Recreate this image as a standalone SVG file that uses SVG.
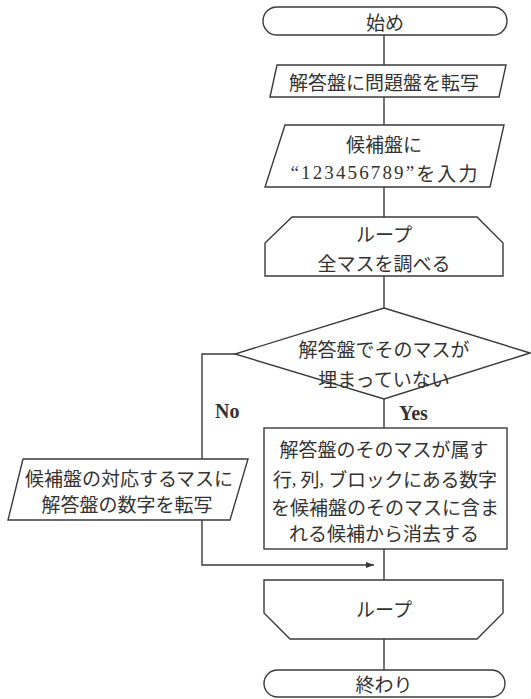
<svg xmlns="http://www.w3.org/2000/svg" width="531" height="699" viewBox="0 0 531 699">
<style>
.s{fill:#fff;stroke:#3a3a3a;stroke-width:1.4}
.c{fill:none;stroke:#3a3a3a;stroke-width:1.4}
.t{font-family:"Noto Sans CJK JP","Noto Sans",sans-serif;font-size:19px;fill:#333;text-anchor:middle;dominant-baseline:central}
.l{font-family:"Liberation Serif","Noto Sans CJK JP",serif;font-size:20px;font-weight:bold;fill:#333}
.d{font-family:"Liberation Serif",serif}
</style>
<defs>
<marker id="arr" markerWidth="8" markerHeight="6" refX="8" refY="3" orient="auto" markerUnits="userSpaceOnUse">
<path d="M0,0 L8,3 L0,6 Z" fill="#3a3a3a"/>
</marker>
</defs>
<g id="connectors">
<path class="c" d="M384 35 V65"/>
<path class="c" d="M384 97 V125"/>
<path class="c" d="M384 187 V217"/>
<path class="c" d="M384 276 V308"/>
<path class="c" d="M384 399 V428"/>
<path class="c" d="M384 549 V580"/>
<path class="c" d="M384 639 V670"/>
<path class="c" d="M235 354 H202 V565 H374" marker-end="url(#arr)"/>
<text class="l" x="215" y="418">No</text>
<text class="l" x="399" y="420">Yes</text>
</g>
<g id="start">
<rect class="s" x="263" y="7" width="244" height="28" rx="14"/>
<text class="t" x="385" y="21">始め</text>
</g>
<g id="copy">
<polygon class="s" points="277,65 506,65 499,97 270,97"/>
<text class="t" x="384" y="81">解答盤に問題盤を転写</text>
</g>
<g id="input">
<polygon class="s" points="285,125 504,125 490,187 265,187"/>
<text class="t" x="384" y="143">候補盤に</text>
<text class="t" x="384" y="172" textLength="187" lengthAdjust="spacing"><tspan class="d">“123456789”</tspan>を入力</text>
</g>
<g id="loopStart">
<polygon class="s" points="292,217 477,217 503,243 503,276 265,276 265,243"/>
<text class="t" x="384" y="233">ループ</text>
<text class="t" x="384" y="262">全マスを調べる</text>
</g>
<g id="decision">
<polygon class="s" points="384,308 530,353 384,399 235,354"/>
<text class="t" x="384" y="348">解答盤でそのマスが</text>
<text class="t" x="384" y="378">埋まっていない</text>
</g>
<g id="noAction">
<polygon class="s" points="23,459 248,459 230,520 8,520"/>
<text class="t" x="129" y="477">候補盤の対応するマスに</text>
<text class="t" x="127" y="503">解答盤の数字を転写</text>
</g>
<g id="yesAction">
<rect class="s" x="264" y="428" width="243" height="121"/>
<text class="t" x="384" y="448">解答盤のそのマスが属す</text>
<text class="t" x="385" y="478" textLength="224" lengthAdjust="spacing">行<tspan class="d">, </tspan>列<tspan class="d">, </tspan>ブロックにある数字</text>
<text class="t" x="385" y="506">を候補盤のそのマスに含ま</text>
<text class="t" x="384" y="532">れる候補から消去する</text>
</g>
<g id="loopEnd">
<polygon class="s" points="264,580 503,580 503,613 477,639 290,639 264,613"/>
<text class="t" x="384" y="608">ループ</text>
</g>
<g id="end">
<rect class="s" x="264" y="670" width="241" height="27" rx="13.5"/>
<text class="t" x="384" y="683">終わり</text>
</g>
</svg>
